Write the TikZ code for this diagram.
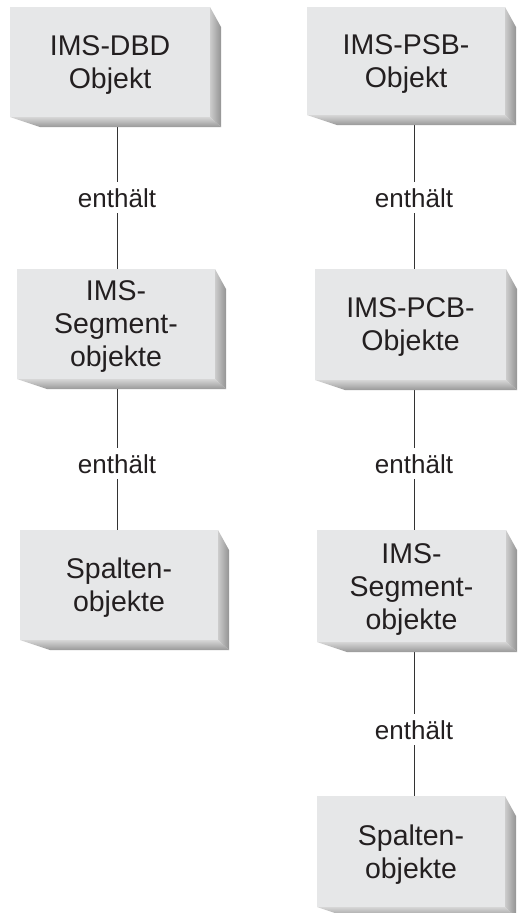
\documentclass[tikz,border=0pt]{standalone}
\usepackage{fontspec}
\setmainfont{Liberation Sans}
\usetikzlibrary{fit,backgrounds}
\definecolor{facegray}{RGB}{230,231,232}
\definecolor{ink}{RGB}{35,31,32}
\tikzset{
 face/.style={fill=facegray, draw=none, inner sep=0pt},
 boxtext/.style={align=center, text=ink, font=\fontsize{28.5}{33}\selectfont, inner sep=0pt},
 lbl/.style={text=ink, font=\fontsize{26}{30}\selectfont, text height=19pt, text depth=0pt, inner xsep=2pt, inner ysep=6pt},
 conn/.style={draw=black!80, line width=0.8pt},
 sideface/.style={left color=black!20, right color=black!42, draw=none},
 bottomface/.style={top color=black!16, bottom color=black!40, draw=none},
}
\newcommand\bevbox[6]{%
 \path[bottomface] (#2,#5) -- ({#2+30},{#5+10}) -- ({#4+11},{#5+10}) -- (#4,#5) -- cycle;
 \path[sideface] (#4,#3) -- ({#4+11},{#3+20}) -- ({#4+11},{#5+10}) -- (#4,#5) -- cycle;
 \node[face, fit={(#2,#3)(#4,#5)}] (#1) {};
 \node[boxtext] (#1t) at ([yshift=-3pt]#1.center) {#6};
}
\begin{document}
\begin{tikzpicture}[x=1pt, y=-1pt]
\useasboundingbox (0,0) rectangle (518,913);
% boxes
\bevbox{L1}{10}{7}{210}{117}{IMS-DBD\\Objekt}
\bevbox{L2}{17}{269}{215}{379}{IMS-\\Segment-\\objekte}
\bevbox{L3}{20}{530}{218}{640}{Spalten-\\objekte}
\bevbox{R1}{307}{7}{505}{115}{IMS-PSB-\\Objekt}
\bevbox{R2}{315}{269}{506}{380}{IMS-PCB-\\Objekte}
\bevbox{R3}{317}{530}{506}{642}{IMS-\\Segment-\\objekte}
\bevbox{R4}{317}{796}{505}{907}{Spalten-\\objekte}
% labels
\node[lbl] (le1) at (117,197.5) {enthält};
\node[lbl] (le2) at (117,463.5) {enthält};
\node[lbl] (re1) at (414,197.5) {enthält};
\node[lbl] (re2) at (414,463.5) {enthält};
\node[lbl] (re3) at (414,729.5) {enthält};
% connectors (behind the boxes)
\begin{pgfonlayer}{background}
\draw[conn] (le1 |- L1.south) -- (le1.north);
\draw[conn] (le1.south) -- (le1 |- L2.north);
\draw[conn] (le2 |- L2.south) -- (le2.north);
\draw[conn] (le2.south) -- (le2 |- L3.north);
\draw[conn] (re1 |- R1.south) -- (re1.north);
\draw[conn] (re1.south) -- (re1 |- R2.north);
\draw[conn] (re2 |- R2.south) -- (re2.north);
\draw[conn] (re2.south) -- (re2 |- R3.north);
\draw[conn] (re3 |- R3.south) -- (re3.north);
\draw[conn] (re3.south) -- (re3 |- R4.north);
\end{pgfonlayer}
\end{tikzpicture}
\end{document}
